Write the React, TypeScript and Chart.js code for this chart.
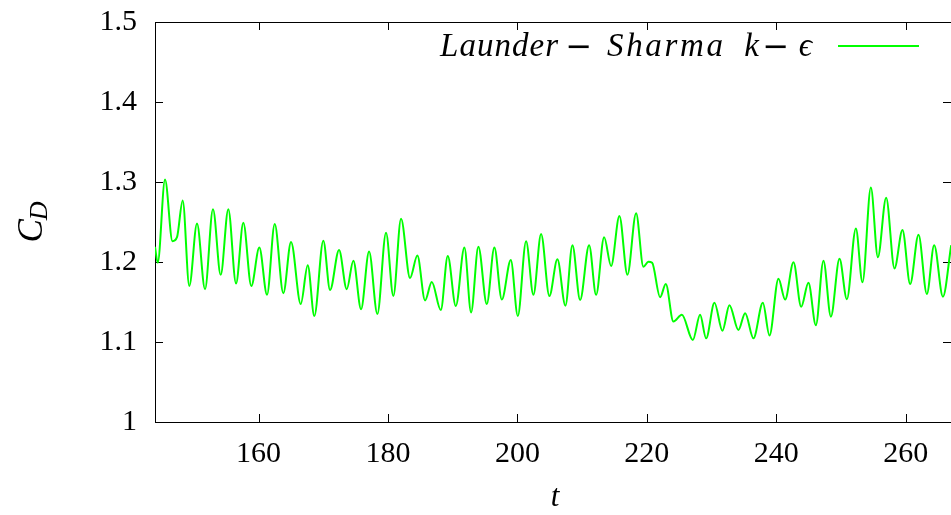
import React, { useEffect, useRef } from 'react';
import { Chart, registerables } from 'chart.js';

Chart.register(...registerables);

// ---- data (extrema of the drag-coefficient signal) ----
const tValues: number[] = [
  144.0, 144.42, 145.55, 146.7, 147.4, 148.28, 149.3, 150.49, 151.73, 152.96,
  154.15, 155.33, 156.52, 157.65, 158.88, 160.12, 161.31, 162.5, 163.83, 165.02,
  166.52, 167.6, 168.62, 170.01, 171.05, 172.44, 173.63, 174.65, 175.84, 177.08,
  178.36, 179.7, 180.83, 182.02, 183.41, 184.54, 185.73, 186.77, 188.16, 189.24,
  190.48, 191.81, 192.84, 193.97, 195.27, 196.44, 197.59, 198.98, 200.06, 201.34,
  202.47, 203.66, 204.94, 206.18, 207.42, 208.5, 209.69, 211.08, 212.16, 213.4,
  214.48, 215.76, 217.0, 218.34, 219.47, 220.24, 220.82, 222.05, 222.93, 224.11,
  225.41, 227.11, 228.23, 229.16, 230.45, 231.68, 232.76, 234.15, 235.19, 236.47,
  237.93, 238.95, 240.34, 241.37, 242.66, 243.85, 244.97, 246.12, 247.29, 248.44,
  249.77, 250.91, 252.3, 253.32, 254.62, 255.7, 256.98, 258.27, 259.5, 260.69,
  261.98, 263.27, 264.4, 265.75, 267.03
];
const cdValues: number[] = [
  1.219, 1.199, 1.303, 1.226, 1.231, 1.277, 1.17, 1.248, 1.166, 1.266,
  1.184, 1.266, 1.173, 1.249, 1.17, 1.218, 1.159, 1.2475, 1.161, 1.225,
  1.1475, 1.196, 1.1325, 1.2267, 1.165, 1.215, 1.166, 1.2017, 1.141, 1.213,
  1.135, 1.2367, 1.1575, 1.254, 1.18, 1.208, 1.152, 1.175, 1.14, 1.2075,
  1.145, 1.218, 1.137, 1.219, 1.1475, 1.218, 1.153, 1.2025, 1.1325, 1.226,
  1.159, 1.235, 1.1575, 1.2033, 1.1454, 1.221, 1.1525, 1.221, 1.159, 1.231,
  1.195, 1.2575, 1.184, 1.261, 1.194, 1.2004, 1.199, 1.156, 1.1725, 1.1255,
  1.134, 1.1025, 1.134, 1.1046, 1.149, 1.114, 1.146, 1.115, 1.136, 1.1046,
  1.149, 1.108, 1.179, 1.153, 1.1996, 1.144, 1.174, 1.121, 1.2017, 1.1317,
  1.204, 1.1534, 1.242, 1.1746, 1.293, 1.206, 1.2804, 1.192, 1.24, 1.1725,
  1.234, 1.16, 1.221, 1.1566, 1.221
];
const xTicks: number[] = [160, 180, 200, 220, 240, 260];
const yTicks: number[] = [1, 1.1, 1.2, 1.3, 1.4, 1.5];
const xRange: number[] = [144, 267];
const yRange: number[] = [1, 1.5];
const seriesLabel = 'Launder − Sharma  k − ϵ';
const legendTokens: string[] = ['Launder', '−', 'Sharma', 'k', '−', 'ϵ'];
const xTitle = 't';
const yTitleMain = 'C';
const yTitleSub = 'D';

// ---- styles / layout ----
const W = 951;
const H = 515;
const LINE_COLOR = '#00ff00';
const SERIF = '"Liberation Serif", "DejaVu Serif", serif';
const TICK_LEN = 8;
// horizontal extents of the legend tokens, in pixels
const legendSpans: number[][] = [
  [440, 558], [569, 589], [607, 723], [742, 761], [766, 786], [796, 815]
];

function drawSpaced(ctx: CanvasRenderingContext2D, text: string, x0: number, x1: number, y: number) {
  const chars = Array.from(text);
  const widths = chars.map((c) => ctx.measureText(c).width);
  const natural = widths.reduce((a, b) => a + b, 0);
  if (chars.length === 1) {
    ctx.fillText(text, (x0 + x1) / 2 - natural / 2, y);
    return;
  }
  const gap = (x1 - x0 - natural) / (chars.length - 1);
  let x = x0;
  chars.forEach((c, i) => {
    ctx.fillText(c, x, y);
    x += widths[i] + gap;
  });
}

const framePlugin = {
  id: 'gnuplotFrame',
  beforeDatasetsDraw(chart: any) {
    const { ctx, chartArea } = chart;
    const { left, right, top, bottom } = chartArea;
    const xs = chart.scales.x;
    const ys = chart.scales.y;
    ctx.save();
    ctx.strokeStyle = '#000';
    ctx.lineWidth = 1;
    ctx.beginPath();
    for (const v of xTicks) {
      const px = Math.round(xs.getPixelForValue(v)) + 0.5;
      ctx.moveTo(px, bottom);
      ctx.lineTo(px, bottom - TICK_LEN);
      ctx.moveTo(px, top);
      ctx.lineTo(px, top + TICK_LEN);
    }
    for (const v of yTicks) {
      const py = Math.round(ys.getPixelForValue(v)) + 0.5;
      ctx.moveTo(left, py);
      ctx.lineTo(left + TICK_LEN, py);
      ctx.moveTo(right, py);
      ctx.lineTo(right - TICK_LEN, py);
    }
    ctx.stroke();
    ctx.strokeRect(Math.round(left) + 0.5, Math.round(top) + 0.5, Math.round(right - left), Math.round(bottom - top));
    ctx.restore();
  },
  afterDraw(chart: any) {
    const { ctx, chartArea } = chart;
    ctx.save();
    ctx.fillStyle = '#000';
    // legend: text then line sample (gnuplot style)
    ctx.textAlign = 'left';
    ctx.textBaseline = 'alphabetic';
    const baseline = 56;
    legendTokens.forEach((tok, i) => {
      if (tok === '−') {
        ctx.font = '32px "DejaVu Sans", sans-serif';
        drawSpaced(ctx, tok, legendSpans[i][0], legendSpans[i][1], baseline + 1);
      } else {
        ctx.font = `italic 33px ${SERIF}`;
        drawSpaced(ctx, tok, legendSpans[i][0], legendSpans[i][1], baseline);
      }
    });
    const ly = 46;
    ctx.strokeStyle = LINE_COLOR;
    ctx.lineWidth = 2;
    ctx.beginPath();
    ctx.moveTo(838, ly);
    ctx.lineTo(919, ly);
    ctx.stroke();
    // x title
    ctx.textAlign = 'center';
    ctx.textBaseline = 'middle';
    ctx.font = `italic 31px ${SERIF}`;
    ctx.fillText(xTitle, (chartArea.left + chartArea.right) / 2 + 2, 498);
    // y title C_D rotated
    ctx.translate(31, (chartArea.top + chartArea.bottom) / 2);
    ctx.rotate(-Math.PI / 2);
    ctx.textAlign = 'left';
    ctx.textBaseline = 'alphabetic';
    ctx.font = `italic 35px ${SERIF}`;
    const cw = ctx.measureText(yTitleMain).width;
    ctx.font = `italic 26px ${SERIF}`;
    const dw = ctx.measureText(yTitleSub).width;
    const total = cw + dw - 1;
    ctx.font = `italic 35px ${SERIF}`;
    ctx.fillText(yTitleMain, -total / 2, 11);
    ctx.font = `italic 26px ${SERIF}`;
    ctx.fillText(yTitleSub, -total / 2 + cw - 1, 16);
    ctx.restore();
  }
};

export default function App() {
  const canvasRef = useRef<HTMLCanvasElement | null>(null);

  useEffect(() => {
    const canvas = canvasRef.current;
    if (!canvas) return;
    const chart = new Chart(canvas, {
      type: 'scatter',
      data: {
        datasets: [
          {
            label: seriesLabel,
            data: tValues.map((t, i) => ({ x: t, y: cdValues[i] })),
            showLine: true,
            borderColor: LINE_COLOR,
            backgroundColor: LINE_COLOR,
            borderWidth: 2,
            pointRadius: 0,
            cubicInterpolationMode: 'monotone',
            fill: false
          }
        ]
      },
      options: {
        responsive: false,
        animation: false,
        devicePixelRatio: 1,
        layout: { padding: { top: 22, right: 0, left: 0, bottom: 0 } },
        plugins: {
          legend: { display: false },
          tooltip: { enabled: false },
          title: { display: false }
        },
        scales: {
          x: {
            type: 'linear',
            min: xRange[0],
            max: xRange[1],
            afterBuildTicks: (scale: any) => {
              scale.ticks = xTicks.map((v) => ({ value: v }));
            },
            afterFit: (scale: any) => {
              scale.height = 93;
              scale.paddingLeft = 0;
              scale.paddingRight = 0;
            },
            grid: { display: false, drawTicks: false },
            border: { display: false },
            ticks: {
              color: '#000',
              padding: 14,
              font: { family: SERIF, size: 30 },
              callback: (v: any) => String(v)
            }
          },
          y: {
            type: 'linear',
            min: yRange[0],
            max: yRange[1],
            afterBuildTicks: (scale: any) => {
              scale.ticks = yTicks.map((v) => ({ value: v }));
            },
            afterFit: (scale: any) => {
              scale.width = 155;
              scale.paddingTop = 0;
              scale.paddingBottom = 0;
            },
            grid: { display: false, drawTicks: false },
            border: { display: false },
            ticks: {
              color: '#000',
              padding: 18,
              font: { family: SERIF, size: 30 },
              callback: (v: any) => String(v)
            }
          }
        }
      },
      plugins: [framePlugin]
    });
    return () => chart.destroy();
  }, []);

  return (
    <div style={{ position: 'fixed', left: 0, top: 0, width: W, height: H, background: '#fff' }}>
      <canvas ref={canvasRef} width={W} height={H} style={{ display: 'block' }} />
    </div>
  );
}
